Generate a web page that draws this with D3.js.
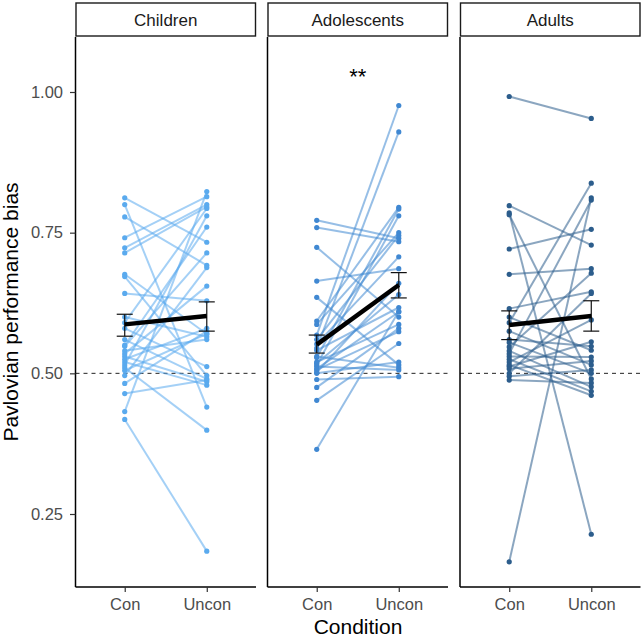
<!DOCTYPE html>
<html>
<head>
<meta charset="utf-8">
<script src="https://cdn.jsdelivr.net/npm/d3@7"></script>
<style>
  body { margin: 0; background: #fff; }
  text { font-family: "Liberation Sans", Arial, sans-serif; }
</style>
</head>
<body>
<div id="chart"></div>
<script>
// Data: one pair (Con, Uncon) per participant
const groups = ['Children', 'Adolescents', 'Adults'];
const conditions = ['Con', 'Uncon'];
const yTicks = [0.25, 0.50, 0.75, 1.00];

const childrenCon = [0.812, 0.800, 0.778, 0.741, 0.723, 0.714, 0.676, 0.672, 0.642, 0.600,
  0.590, 0.580, 0.560, 0.550, 0.548, 0.540, 0.535, 0.530, 0.525, 0.520,
  0.515, 0.510, 0.505, 0.496, 0.482, 0.464, 0.432, 0.418];
const childrenUncon = [0.733, 0.440, 0.692, 0.814, 0.800, 0.796, 0.570, 0.496, 0.629, 0.565,
  0.793, 0.512, 0.490, 0.760, 0.714, 0.560, 0.655, 0.485, 0.580, 0.479,
  0.780, 0.399, 0.570, 0.688, 0.575, 0.488, 0.823, 0.184];

const adolescentsCon = [0.772, 0.759, 0.724, 0.664, 0.635, 0.593, 0.587, 0.568, 0.560, 0.552,
  0.545, 0.541, 0.528, 0.520, 0.515, 0.512, 0.508, 0.506, 0.500, 0.489,
  0.475, 0.452, 0.365, 0.518, 0.530, 0.502];
const adolescentsUncon = [0.740, 0.734, 0.600, 0.686, 0.515, 0.795, 0.750, 0.976, 0.745, 0.707,
  0.929, 0.617, 0.792, 0.587, 0.780, 0.506, 0.609, 0.574, 0.520, 0.494,
  0.580, 0.553, 0.610, 0.640, 0.510, 0.660];

const adultsCon = [0.992, 0.798, 0.785, 0.782, 0.721, 0.676, 0.615, 0.600, 0.590, 0.575,
  0.547, 0.540, 0.535, 0.530, 0.525, 0.520, 0.515, 0.512, 0.500, 0.495,
  0.488, 0.165, 0.555, 0.560, 0.508];
const adultsUncon = [0.953, 0.728, 0.214, 0.490, 0.756, 0.686, 0.645, 0.541, 0.838, 0.515,
  0.678, 0.476, 0.808, 0.529, 0.468, 0.595, 0.461, 0.556, 0.642, 0.506,
  0.483, 0.812, 0.500, 0.548, 0.522];

// group summaries: mean and error bar ends, per condition
const meanCon = [0.587, 0.551, 0.586];
const meanUncon = [0.602, 0.657, 0.602];
const lowCon = [0.566, 0.536, 0.560];
const highCon = [0.605, 0.568, 0.611];
const lowUncon = [0.575, 0.634, 0.575];
const highUncon = [0.627, 0.679, 0.629];
const significance = ['', '**', ''];

const colors = ['#5AAAEE', '#4088D2', '#2C5D8C'];
const conData = [childrenCon, adolescentsCon, adultsCon];
const unconData = [childrenUncon, adolescentsUncon, adultsUncon];

// layout
const W = 643, H = 639;
const panelLeft = [75.5, 267.5, 460];
const panelW = 180.5;
const panelTop = 37, panelBottom = 587;
const stripTop = 3, stripBottom = 36;
const font = '"Liberation Sans", Arial, sans-serif';

const svg = d3.select('#chart').append('svg')
  .attr('width', W)
  .attr('height', H);

const y = d3.scaleLinear()
  .domain([0.25, 1])
  .range([514, 92]);

const x = d3.scalePoint()
  .domain(conditions)
  .range([0, panelW])
  .padding(0.6);

groups.forEach((g, gi) => {
  const panel = svg.append('g')
    .attr('transform', 'translate(' + panelLeft[gi] + ',0)');

  // strip
  panel.append('rect')
    .attr('x', 0.5).attr('y', stripTop)
    .attr('width', panelW - 1).attr('height', stripBottom - stripTop)
    .attr('fill', '#fff')
    .attr('stroke', '#1a1a1a')
    .attr('stroke-width', 1.4);
  panel.append('text')
    .attr('x', panelW / 2)
    .attr('y', (stripTop + stripBottom) / 2 + 6)
    .attr('text-anchor', 'middle')
    .attr('font-size', 17)
    .attr('fill', '#1a1a1a')
    .text(g);

  // reference line at 0.5
  panel.append('line')
    .attr('x1', 0).attr('x2', panelW)
    .attr('y1', y(0.5)).attr('y2', y(0.5))
    .attr('stroke', '#222')
    .attr('stroke-width', 1)
    .attr('stroke-dasharray', '4,4');

  // paired lines
  const pairs = conData[gi].map((c, i) => ({ con: c, uncon: unconData[gi][i] }));
  panel.append('g').selectAll('line')
    .data(pairs)
    .enter().append('line')
    .attr('x1', x('Con')).attr('x2', x('Uncon'))
    .attr('y1', d => y(d.con)).attr('y2', d => y(d.uncon))
    .attr('stroke', colors[gi])
    .attr('stroke-opacity', 0.55)
    .attr('stroke-width', 2);

  // points
  const pts = [];
  pairs.forEach(d => {
    pts.push({ c: 'Con', v: d.con });
    pts.push({ c: 'Uncon', v: d.uncon });
  });
  panel.append('g').selectAll('circle')
    .data(pts)
    .enter().append('circle')
    .attr('cx', d => x(d.c))
    .attr('cy', d => y(d.v))
    .attr('r', 2.6)
    .attr('fill', colors[gi]);

  // error bars
  const summ = [
    { c: 'Con', m: meanCon[gi], lo: lowCon[gi], hi: highCon[gi] },
    { c: 'Uncon', m: meanUncon[gi], lo: lowUncon[gi], hi: highUncon[gi] }
  ];
  const eb = panel.append('g').selectAll('g')
    .data(summ)
    .enter().append('g')
    .attr('stroke', '#111')
    .attr('stroke-width', 1.2);
  eb.append('line')
    .attr('x1', d => x(d.c)).attr('x2', d => x(d.c))
    .attr('y1', d => y(d.lo)).attr('y2', d => y(d.hi));
  eb.append('line')
    .attr('x1', d => x(d.c) - 8).attr('x2', d => x(d.c) + 8)
    .attr('y1', d => y(d.lo)).attr('y2', d => y(d.lo));
  eb.append('line')
    .attr('x1', d => x(d.c) - 8).attr('x2', d => x(d.c) + 8)
    .attr('y1', d => y(d.hi)).attr('y2', d => y(d.hi));

  // mean line
  panel.append('path')
    .datum(summ)
    .attr('fill', 'none')
    .attr('stroke', '#000')
    .attr('stroke-width', 4.5)
    .attr('d', d3.line().x(d => x(d.c)).y(d => y(d.m)));

  // significance
  if (significance[gi]) {
    panel.append('text')
      .attr('x', (x('Con') + x('Uncon')) / 2)
      .attr('y', 84)
      .attr('text-anchor', 'middle')
      .attr('font-size', 22)
      .attr('fill', '#000')
      .text(significance[gi]);
  }

  // x axis
  panel.append('g')
    .attr('transform', 'translate(0,' + panelBottom + ')')
    .call(d3.axisBottom(x).tickSize(5).tickPadding(6))
    .call(a => a.select('.domain').attr('stroke', '#000').attr('stroke-width', 1.5)
      .attr('d', 'M0,0H' + panelW))
    .call(a => a.selectAll('.tick line').attr('stroke', '#333').attr('stroke-width', 1.2))
    .call(a => a.selectAll('.tick text').attr('font-size', 16.5).attr('fill', '#4D4D4D')
      .attr('font-family', font));

  // y axis line (ticks only on the first panel)
  const yAxis = d3.axisLeft(y).tickValues(yTicks).tickFormat(d3.format('.2f'))
    .tickSize(gi === 0 ? 5.5 : 0).tickPadding(7);
  panel.append('g')
    .call(yAxis)
    .call(a => a.select('.domain').attr('stroke', '#000').attr('stroke-width', 1.5)
      .attr('d', 'M0,' + panelTop + 'V' + panelBottom))
    .call(a => a.selectAll('.tick line').attr('stroke', '#333').attr('stroke-width', 1.2))
    .call(a => a.selectAll('.tick text')
      .attr('font-size', 16.5).attr('fill', '#4D4D4D')
      .attr('font-family', font)
      .style('display', gi === 0 ? null : 'none'));
});

// axis titles
svg.append('text')
  .attr('transform', 'translate(18,' + (panelTop + panelBottom) / 2 + ') rotate(-90)')
  .attr('text-anchor', 'middle')
  .attr('font-size', 21)
  .attr('fill', '#000')
  .text('Pavlovian performance bias');

svg.append('text')
  .attr('x', (panelLeft[0] + panelLeft[2] + panelW) / 2)
  .attr('y', 634)
  .attr('text-anchor', 'middle')
  .attr('font-size', 21)
  .attr('fill', '#000')
  .text('Condition');
</script>
</body>
</html>
